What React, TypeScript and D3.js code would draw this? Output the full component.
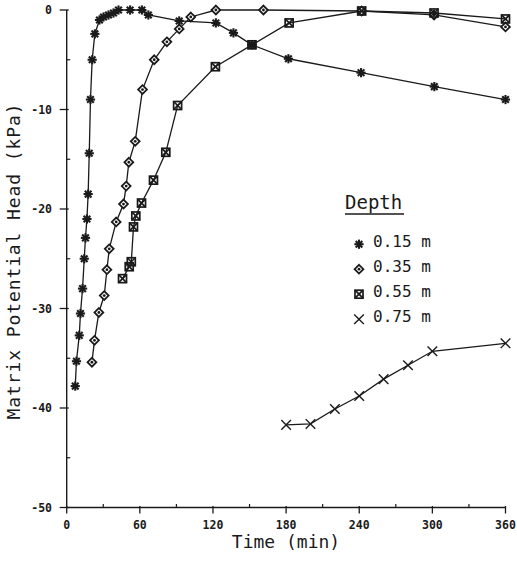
import React from "react";
import * as d3 from "d3";

// Matrix potential head (kPa) versus time (min) at four depths
const depth015Time = [7, 8, 10.3, 11.3, 13, 14.4, 15.4, 16.6, 17.6, 18.5, 19.5, 20.9, 23.1, 26.9, 30.2, 34.3, 38.4, 42.5, 52, 61.7, 67, 92.3, 122.4, 136.8, 151.9, 181.9, 241.5, 301.6, 360];
const depth015Head = [-37.8, -35.3, -32.7, -30.5, -28.0, -25.0, -22.9, -21.0, -18.5, -14.4, -9.0, -5.0, -2.4, -1.0, -0.7, -0.5, -0.3, 0, 0, 0, -0.5, -1.1, -1.3, -2.3, -3.5, -4.9, -6.3, -7.7, -9.0];

const depth035Time = [20.7, 22.8, 26.4, 30.8, 33, 34.9, 40.6, 46.6, 48.8, 51, 56.2, 62.2, 71.8, 82.2, 92.3, 101.8, 122.4, 161.4, 242, 301.4, 360];
const depth035Head = [-35.4, -33.2, -30.4, -28.7, -26.1, -24.0, -21.3, -19.5, -17.7, -15.3, -13.2, -8.0, -5.0, -3.2, -1.9, -0.7, 0, 0, -0.1, -0.5, -1.7];

const depth055Time = [45.8, 51.3, 53, 54.8, 56.7, 61.4, 71.2, 81.3, 91, 122, 152, 182.5, 242, 301.4, 360];
const depth055Head = [-27.0, -25.8, -25.3, -21.8, -20.7, -19.4, -17.1, -14.3, -9.6, -5.7, -3.5, -1.3, -0.1, -0.3, -0.9];

const depth075Time = [180, 200, 220, 240, 260, 280, 300, 360];
const depth075Head = [-41.7, -41.6, -40.1, -38.8, -37.1, -35.7, -34.3, -33.5];

const seriesLabels = ["0.15 m", "0.35 m", "0.55 m", "0.75 m"];
const markerKinds = ["asterisk", "diamond", "boxcross", "cross"];

const xTicks = [0, 60, 120, 180, 240, 300, 360];
const xMinorTicks = [30, 90, 150, 210, 270, 330];
const yTicks = [0, -10, -20, -30, -40, -50];
const yMinorTicks = [-5, -15, -25, -35, -45];

const W = 517;
const H = 562;
const INK = "#1a1a1a";
const FONT = "'DejaVu Sans Mono', 'Liberation Mono', monospace";

const x = d3.scaleLinear().domain([0, 360]).range([66.7, 505.5]);
const y = d3.scaleLinear().domain([-50, 0]).range([507.5, 10]);

function Marker({ kind, cx, cy }: { kind: string; cx: number; cy: number }) {
  if (kind === "asterisk") {
    const r = 4.6;
    const d = r * 0.72;
    return (
      <g stroke={INK} strokeWidth={2.1} strokeLinecap="butt">
        <line x1={cx - r} y1={cy} x2={cx + r} y2={cy} />
        <line x1={cx} y1={cy - r} x2={cx} y2={cy + r} />
        <line x1={cx - d} y1={cy - d} x2={cx + d} y2={cy + d} />
        <line x1={cx - d} y1={cy + d} x2={cx + d} y2={cy - d} />
      </g>
    );
  }
  if (kind === "diamond") {
    const r = 4.4;
    return (
      <g>
        <path
          d={`M${cx},${cy - r}L${cx + r},${cy}L${cx},${cy + r}L${cx - r},${cy}Z`}
          fill="#fff"
          stroke={INK}
          strokeWidth={1.8}
        />
        <circle cx={cx} cy={cy} r={1.4} fill={INK} />
      </g>
    );
  }
  if (kind === "boxcross") {
    const r = 4;
    return (
      <g stroke={INK} strokeWidth={1.7} fill="none">
        <rect x={cx - r} y={cy - r} width={2 * r} height={2 * r} />
        <line x1={cx - r} y1={cy - r} x2={cx + r} y2={cy + r} />
        <line x1={cx - r} y1={cy + r} x2={cx + r} y2={cy - r} />
      </g>
    );
  }
  const r = 4.8;
  return (
    <g stroke={INK} strokeWidth={1.4}>
      <line x1={cx - r} y1={cy - r} x2={cx + r} y2={cy + r} />
      <line x1={cx - r} y1={cy + r} x2={cx + r} y2={cy - r} />
    </g>
  );
}

export default function App() {
  const series = [
    { t: depth015Time, v: depth015Head },
    { t: depth035Time, v: depth035Head },
    { t: depth055Time, v: depth055Head },
    { t: depth075Time, v: depth075Head },
  ];
  const line = d3
    .line<[number, number]>()
    .x((d) => x(d[0]))
    .y((d) => y(d[1]));

  const legendTextX = 373;
  const legendMarkerX = 359;
  const legendY0 = 241.7;
  const legendStep = 25;

  return (
    <svg
      width={W}
      height={H}
      viewBox={`0 0 ${W} ${H}`}
      style={{ position: "absolute", left: 0, top: 0, background: "#fff" }}
    >
      <rect width={W} height={H} fill="#fff" />

      {/* axes */}
      <line x1={x(0)} y1={y(0)} x2={x(0)} y2={y(-50)} stroke={INK} strokeWidth={1.4} />
      <line x1={x(0)} y1={y(-50)} x2={x(360)} y2={y(-50)} stroke={INK} strokeWidth={1.4} />

      {yTicks.map((v) => (
        <g key={`yt${v}`}>
          <line x1={x(0) - 7} x2={x(0) + 2} y1={y(v)} y2={y(v)} stroke={INK} strokeWidth={1.3} />
          <text
            x={52}
            y={y(v)}
            dy="0.36em"
            textAnchor="end"
            fontFamily={FONT}
            fontWeight="bold"
            fontSize={11.5}
            fill={INK}
          >
            {v}
          </text>
        </g>
      ))}
      {yMinorTicks.map((v) => (
        <line key={`ym${v}`} x1={x(0)} x2={x(0) + 3.5} y1={y(v)} y2={y(v)} stroke={INK} strokeWidth={1.2} />
      ))}

      {xTicks.map((t) => (
        <g key={`xt${t}`}>
          <line x1={x(t)} x2={x(t)} y1={y(-50) - 1.5} y2={y(-50) + 6} stroke={INK} strokeWidth={1.3} />
          <text
            x={x(t)}
            y={525}
            dy="0.36em"
            textAnchor="middle"
            fontFamily={FONT}
            fontWeight="bold"
            fontSize={11.5}
            fill={INK}
          >
            {t}
          </text>
        </g>
      ))}
      {xMinorTicks.map((t) => (
        <line key={`xm${t}`} x1={x(t)} x2={x(t)} y1={y(-50)} y2={y(-50) - 3.5} stroke={INK} strokeWidth={1.2} />
      ))}

      {/* axis titles */}
      <text x={286} y={548} textAnchor="middle" fontFamily={FONT} fontSize={18} fill={INK}>
        Time (min)
      </text>
      <text
        transform={`translate(20,261) rotate(-90)`}
        textAnchor="middle"
        fontFamily={FONT}
        fontSize={18}
        letterSpacing={0.9}
        fill={INK}
      >
        Matrix Potential Head (kPa)
      </text>

      {/* series */}
      {series.map((s, i) => {
        const pts = s.t.map((t, j) => [t, s.v[j]] as [number, number]);
        return (
          <g key={`s${i}`}>
            <path d={line(pts) || ""} fill="none" stroke={INK} strokeWidth={1.3} />
            {pts.map((p, j) => (
              <Marker key={j} kind={markerKinds[i]} cx={x(p[0])} cy={y(p[1])} />
            ))}
          </g>
        );
      })}

      {/* legend */}
      <text x={345} y={209} fontFamily={FONT} fontSize={19} fill={INK}>
        Depth
      </text>
      <line x1={345} x2={404} y1={214} y2={214} stroke={INK} strokeWidth={1.3} />
      {seriesLabels.map((lab, i) => (
        <g key={`lg${i}`}>
          <Marker kind={markerKinds[i]} cx={legendMarkerX} cy={legendY0 + i * legendStep + 2.5} />
          <text
            x={legendTextX}
            y={legendY0 + i * legendStep}
            dy="0.36em"
            fontFamily={FONT}
            fontSize={16}
            fill={INK}
          >
            {lab}
          </text>
        </g>
      ))}
    </svg>
  );
}
